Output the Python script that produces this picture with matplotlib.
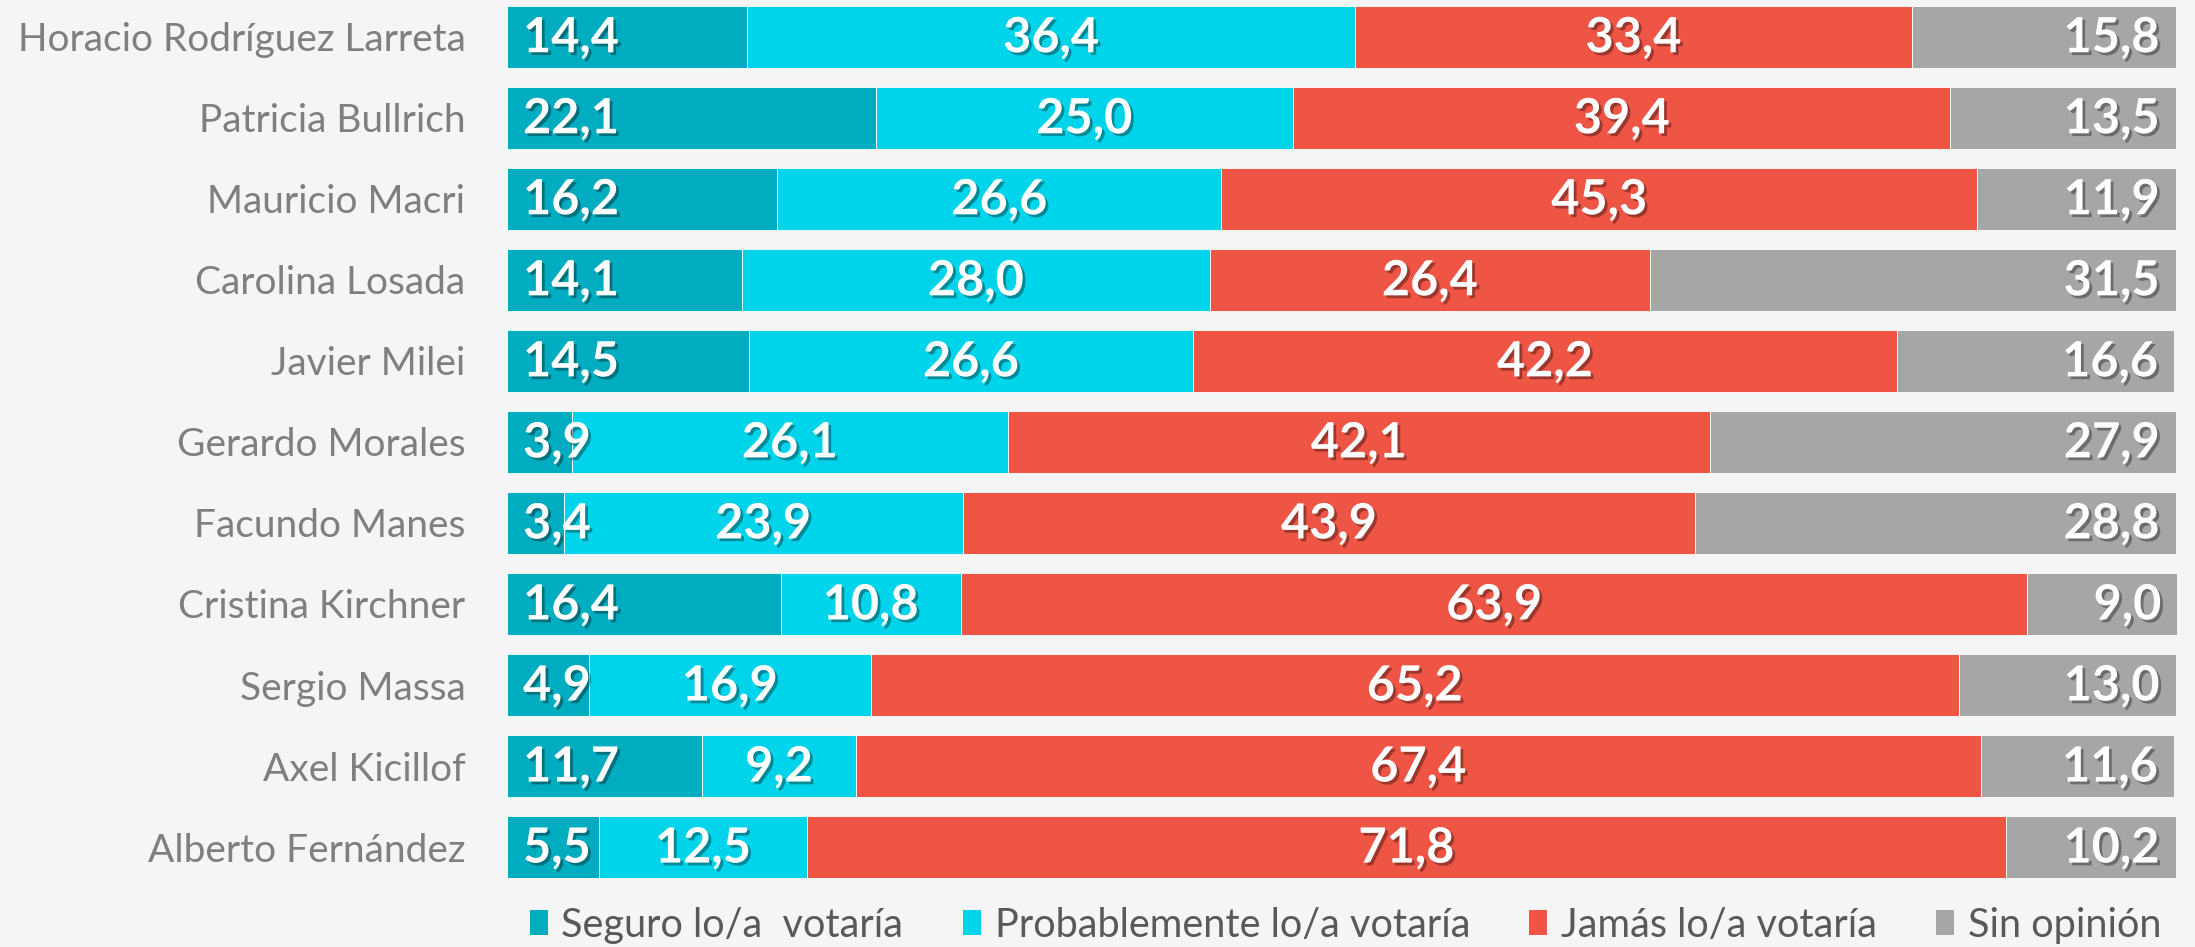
import matplotlib
matplotlib.use('Agg')
import matplotlib.pyplot as plt
import matplotlib.patheffects as pe
from matplotlib.patches import Patch
import numpy as np

plt.rcParams['font.family'] = ['Lato', 'DejaVu Sans']

# datos de la encuesta
candidatos = ['Horacio Rodríguez Larreta', 'Patricia Bullrich', 'Mauricio Macri',
              'Carolina Losada', 'Javier Milei', 'Gerardo Morales', 'Facundo Manes',
              'Cristina Kirchner', 'Sergio Massa', 'Axel Kicillof', 'Alberto Fernández']
seguro = [14.4, 22.1, 16.2, 14.1, 14.5, 3.9, 3.4, 16.4, 4.9, 11.7, 5.5]
probable = [36.4, 25.0, 26.6, 28.0, 26.6, 26.1, 23.9, 10.8, 16.9, 9.2, 12.5]
jamas = [33.4, 39.4, 45.3, 26.4, 42.2, 42.1, 43.9, 63.9, 65.2, 67.4, 71.8]
sin_opinion = [15.8, 13.5, 11.9, 31.5, 16.6, 27.9, 28.8, 9.0, 13.0, 11.6, 10.2]
series = ['Seguro lo/a  votaría', 'Probablemente lo/a votaría', 'Jamás lo/a votaría', 'Sin opinión']
colores = ['#00ACBF', '#00D4EA', '#EE5545', '#A6A6A6']

BG = '#F5F5F5'
fig = plt.figure(figsize=(21.95, 9.47), dpi=100, facecolor=BG)
ax = fig.add_axes([0.231, 0.073, 0.761, 0.9207])
ax.set_facecolor(BG)

y = np.arange(len(candidatos))
valores = [seguro, probable, jamas, sin_opinion]
left = np.zeros(len(candidatos))
sombra = [pe.SimplePatchShadow(offset=(2, -2), shadow_rgbFace='black', alpha=0.35), pe.Normal()]

for k, (vals, col) in enumerate(zip(valores, colores)):
    vals = np.array(vals)
    ax.barh(y, vals, left=left, height=0.76, color=col, edgecolor='white', linewidth=0.6)
    for i, v in enumerate(vals):
        txt = f'{v:.1f}'.replace('.', ',')
        if k == 0:
            x, ha, off = left[i], 'left', 16
        elif k == 3:
            x, ha, off = left[i] + v, 'right', -16
        else:
            x, ha, off = left[i] + v / 2, 'center', 0
        ax.annotate(txt, (x, i), xytext=(off, -1), textcoords='offset pixels',
                    ha=ha, va='center', fontsize=35, fontweight='bold', color='white',
                    path_effects=sombra)
    left = left + vals

ax.set_xlim(0, left.max())
ax.set_ylim(len(candidatos) - 1 + 0.38, -0.38)
ax.set_yticks(y)
ax.set_yticklabels(candidatos, fontsize=28, color='#7F7F7F')
ax.tick_params(axis='y', length=0, pad=30)
ax.set_xticks([])
for s in ax.spines.values():
    s.set_visible(False)

handles = [Patch(facecolor=c, edgecolor='none') for c in colores]
fig.legend(handles, series, loc='center right', bbox_to_anchor=(0.992, 0.023), ncol=4,
           frameon=False, fontsize=28.5, handlelength=0.45, handleheight=0.6,
           handletextpad=0.35, columnspacing=1.5, labelcolor='#595959', borderaxespad=0)

fig.savefig('out.png', dpi=100, facecolor=BG)
